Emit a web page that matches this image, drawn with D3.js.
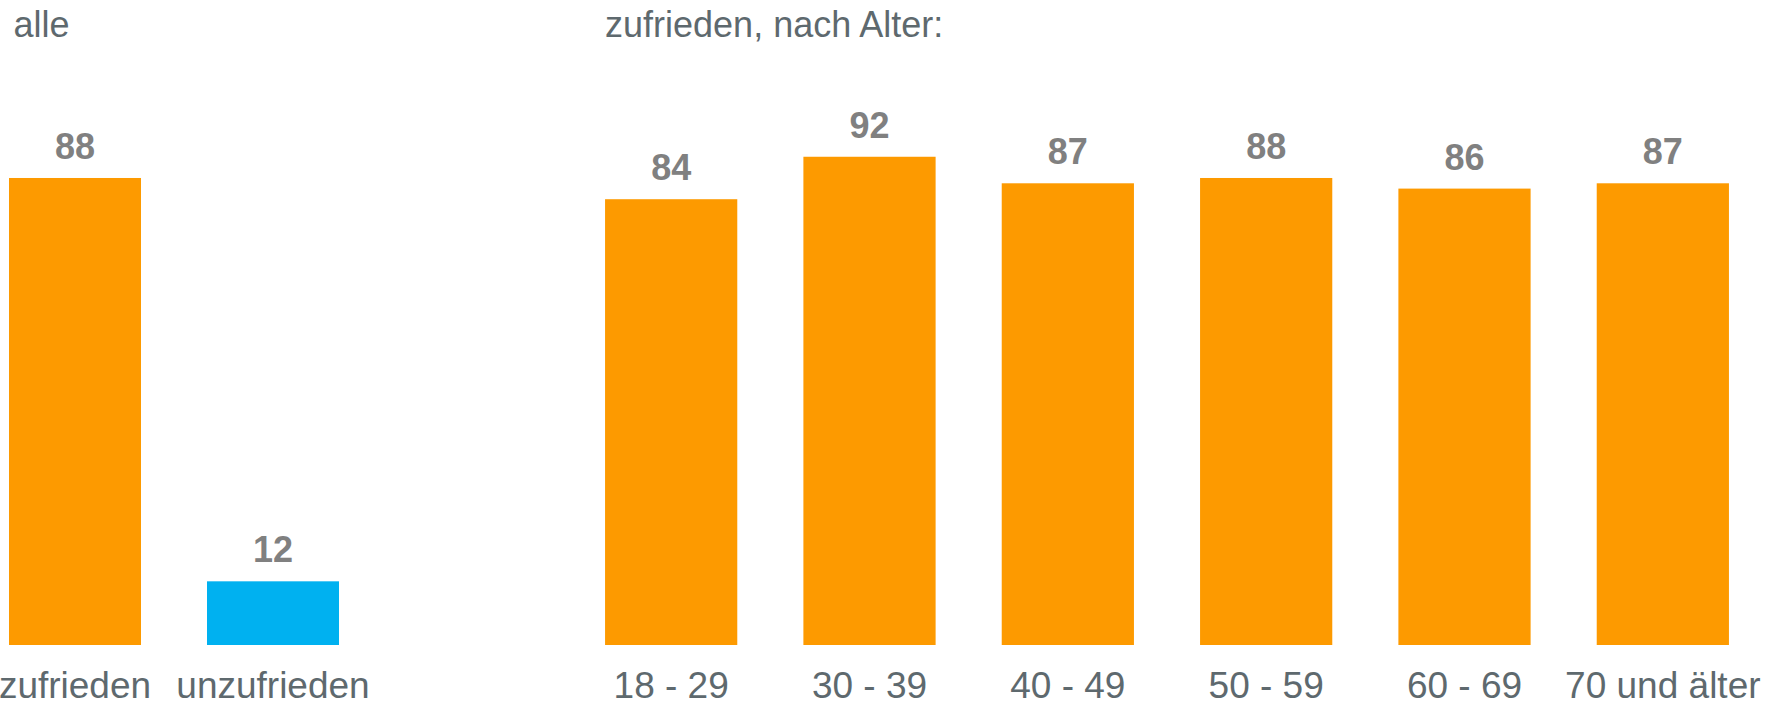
<!DOCTYPE html>
<html>
<head>
<meta charset="utf-8">
<script src="https://cdn.jsdelivr.net/npm/d3@7"></script>
<style>
  html, body { margin: 0; padding: 0; background: #fff; }
  svg { display: block; font-family: "Liberation Sans", Arial, sans-serif; }
</style>
</head>
<body>
<svg id="chart" width="1766" height="705"></svg>
<script>
// data
const allCategories = ['zufrieden', 'unzufrieden'];
const allValues = [88, 12];
const ageCategories = ['18 - 29', '30 - 39', '40 - 49', '50 - 59', '60 - 69', '70 und älter'];
const ageValues = [84, 92, 87, 88, 86, 87];

const ORANGE = '#fd9a00';
const BLUE = '#00b1f0';
const VALUE_GREY = '#808080';
const TEXT_GREY = '#5e696e';

const svg = d3.select('#chart');

const y = d3.scaleLinear().domain([0, 100]).range([645, 114.3]);

function drawPanel(title, titleX, cats, vals, colors, x0, x1) {
  const x = d3.scaleBand()
    .domain(cats)
    .range([x0, x1])
    .paddingInner(1 / 3)
    .paddingOuter(1 / 6);

  const g = svg.append('g');

  g.selectAll('rect')
    .data(cats)
    .join('rect')
    .attr('x', d => x(d))
    .attr('y', (d, i) => y(vals[i]))
    .attr('width', x.bandwidth())
    .attr('height', (d, i) => y(0) - y(vals[i]))
    .attr('fill', (d, i) => colors[i]);

  g.selectAll('text.value')
    .data(cats)
    .join('text')
    .attr('class', 'value')
    .attr('x', d => x(d) + x.bandwidth() / 2)
    .attr('y', (d, i) => y(vals[i]) - 19)
    .attr('text-anchor', 'middle')
    .attr('font-size', 36)
    .attr('font-weight', 'bold')
    .attr('fill', VALUE_GREY)
    .text((d, i) => vals[i]);

  g.selectAll('text.cat')
    .data(cats)
    .join('text')
    .attr('class', 'cat')
    .attr('x', d => x(d) + x.bandwidth() / 2)
    .attr('y', 698)
    .attr('text-anchor', 'middle')
    .attr('font-size', 37)
    .attr('fill', TEXT_GREY)
    .text(d => d);

  g.append('text')
    .attr('x', titleX == null ? x(cats[0]) : titleX)
    .attr('y', 37)
    .attr('font-size', 36)
    .attr('fill', TEXT_GREY)
    .text(title);
}

drawPanel('alle', 13.5, allCategories, allValues, [ORANGE, BLUE], -24, 372);
drawPanel('zufrieden, nach Alter:', null, ageCategories, ageValues, ageValues.map(() => ORANGE), 572, 1762);
</script>
</body>
</html>
